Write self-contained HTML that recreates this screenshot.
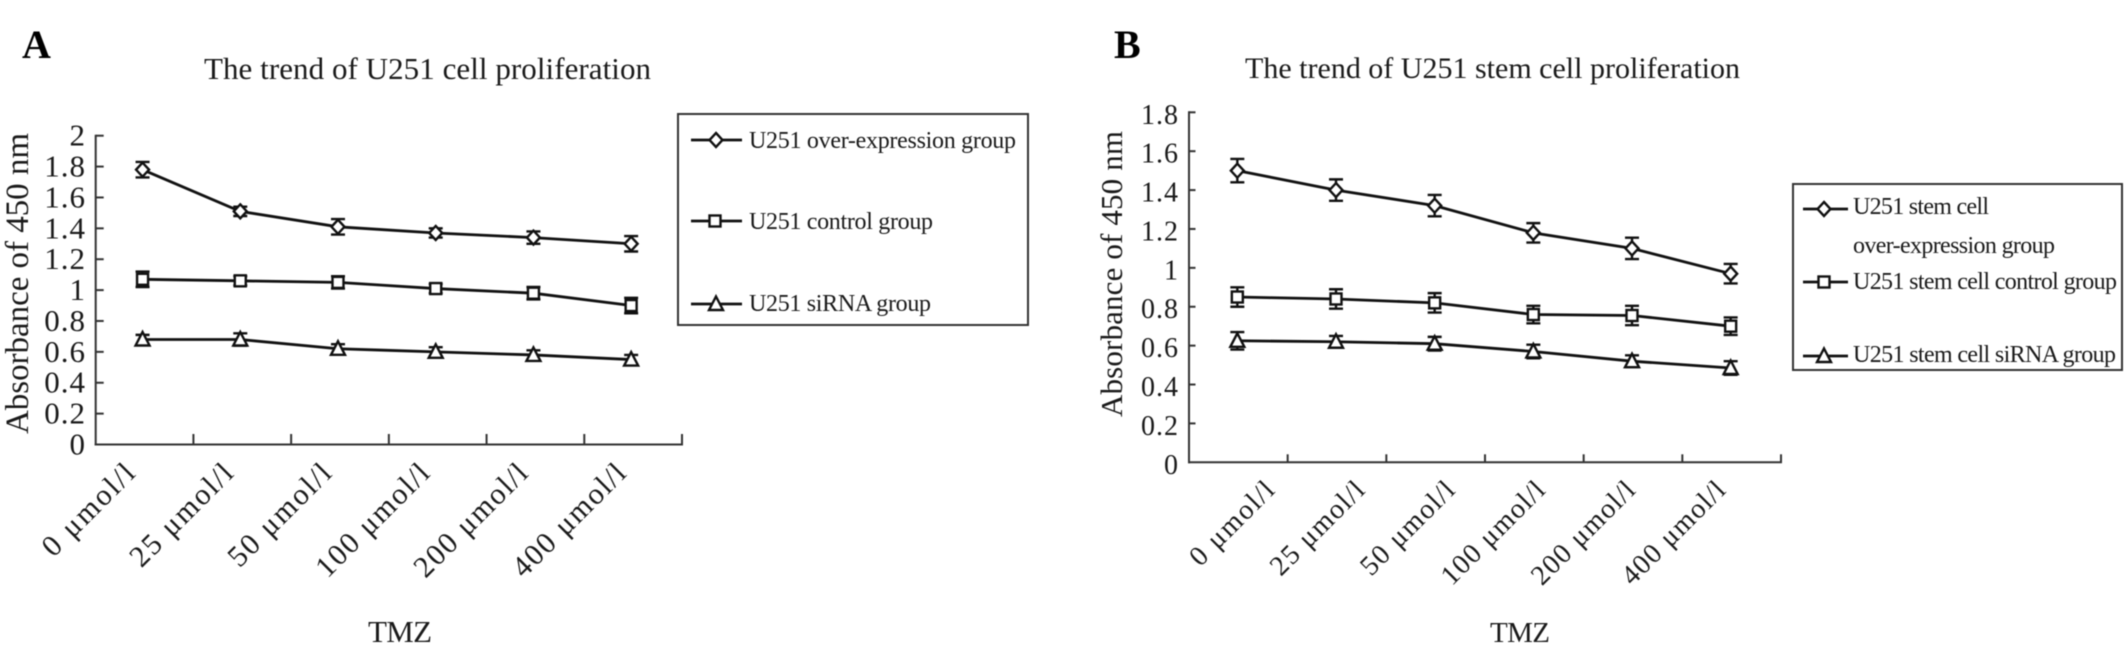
<!DOCTYPE html>
<html lang="en">
<head>
<meta charset="utf-8">
<title>U251 cell proliferation trends</title>
<style>
html,body{margin:0;padding:0;background:#fff;width:2126px;height:672px;overflow:hidden}
svg{display:block;filter:blur(0.45px)}
text{font-family:"Liberation Serif","Noto Serif CJK SC",serif;fill:#1a1a1a}
</style>
</head>
<body>
<svg id="figure" width="2126" height="672" viewBox="0 0 2126 672" xmlns="http://www.w3.org/2000/svg">
  <rect width="2126" height="672" fill="#fff"/>
  <g id="panel-a">
    <text x="22" y="58" font-size="40" font-weight="bold" style="fill:#000">A</text>
    <text x="204" y="79" font-size="31" textLength="447">The trend of U251 cell proliferation</text>
    <text transform="translate(28,434) rotate(-90)" font-size="33" textLength="301">Absorbance of 450 nm</text>
    <text x="368" y="642" font-size="31" textLength="64">TMZ</text>
    <g>
      <rect x="678" y="114" width="350" height="211" fill="#fff" stroke="#333" stroke-width="2"/>
      <g id="legend-a-marks"></g>
      <text x="749" y="148" font-size="24" textLength="267">U251 over-expression group</text>
      <text x="749" y="229" font-size="24" textLength="184">U251 control group</text>
      <text x="749" y="311" font-size="24" textLength="182">U251 siRNA group</text>
    </g>
    <g id="plot-a"></g>
  </g>
  <g id="panel-b">
    <text x="1114" y="58" font-size="40" font-weight="bold" style="fill:#000">B</text>
    <text x="1245" y="78" font-size="30" textLength="495">The trend of U251 stem cell proliferation</text>
    <text transform="translate(1122,417) rotate(-90)" font-size="31" textLength="286">Absorbance of 450 nm</text>
    <text x="1490" y="642" font-size="29" textLength="60">TMZ</text>
    <g>
      <rect x="1793" y="184" width="329" height="186" fill="#fff" stroke="#333" stroke-width="2"/>
      <g id="legend-b-marks"></g>
      <text x="1853" y="214" font-size="24" textLength="136">U251 stem cell</text>
      <text x="1853" y="253" font-size="24" textLength="202">over-expression group</text>
      <text x="1853" y="289" font-size="24" textLength="264">U251 stem cell control group</text>
      <text x="1853" y="362" font-size="24" textLength="263">U251 stem cell siRNA group</text>
    </g>
    <g id="plot-b"></g>
  </g>
</svg>
<script>
// Shared categories
const categories = ['0 μmol/l', '25 μmol/l', '50 μmol/l', '100 μmol/l', '200 μmol/l', '400 μmol/l'];

// Panel A data
const ticksA = [0, 0.2, 0.4, 0.6, 0.8, 1, 1.2, 1.4, 1.6, 1.8, 2];
const overA = [1.78, 1.51, 1.41, 1.37, 1.34, 1.30];
const overErrA = [0.05, 0.03, 0.05, 0.03, 0.04, 0.05];
const controlA = [1.07, 1.06, 1.05, 1.01, 0.98, 0.90];
const controlErrA = [0.05, 0.03, 0.04, 0.03, 0.04, 0.05];
const sirnaA = [0.68, 0.68, 0.62, 0.60, 0.58, 0.55];
const sirnaErrA = [0.03, 0.04, 0.03, 0.03, 0.03, 0.03];

// Panel B data
const ticksB = [0, 0.2, 0.4, 0.6, 0.8, 1, 1.2, 1.4, 1.6, 1.8];
const overB = [1.50, 1.40, 1.32, 1.18, 1.10, 0.97];
const overErrB = [0.06, 0.055, 0.055, 0.05, 0.055, 0.05];
const controlB = [0.85, 0.84, 0.82, 0.76, 0.755, 0.70];
const controlErrB = [0.05, 0.05, 0.05, 0.045, 0.05, 0.045];
const sirnaB = [0.625, 0.62, 0.61, 0.57, 0.52, 0.485];
const sirnaErrB = [0.045, 0.03, 0.035, 0.035, 0.03, 0.035];

const NS = 'http://www.w3.org/2000/svg';

function make(parent, tag, attrs) {
  const el = document.createElementNS(NS, tag);
  for (const k in attrs) el.setAttribute(k, attrs[k]);
  parent.appendChild(el);
  return el;
}

function drawMarker(parent, kind, cx, cy, name) {
  const style = { fill: '#fff', stroke: '#111', 'stroke-width': 2.4 };
  let el;
  if (kind === 'diamond') {
    el = make(parent, 'polygon', Object.assign({ points: `${cx},${cy - 7} ${cx + 6.5},${cy} ${cx},${cy + 7} ${cx - 6.5},${cy}` }, style));
  } else if (kind === 'square') {
    el = make(parent, 'rect', Object.assign({ x: cx - 5.5, y: cy - 5.5, width: 11, height: 11 }, style));
  } else {
    el = make(parent, 'polygon', Object.assign({ points: `${cx},${cy - 7.5} ${cx + 7},${cy + 6} ${cx - 7},${cy + 6}` }, style));
  }
  
  
}

function drawChart(root, cfg, ticks, series) {
  const y = v => cfg.y0 - (v - cfg.yMin) / (cfg.yMax - cfg.yMin) * (cfg.y0 - cfg.yTop);
  const band = (cfg.x1 - cfg.x0) / categories.length;
  const x = i => cfg.x0 + band * (i + 0.5) - cfg.pointShift;
  const axisStyle = { stroke: '#333', 'stroke-width': 2, fill: 'none' };

  const yAxis = make(root, 'line', Object.assign({ x1: cfg.x0, x2: cfg.x0, y1: cfg.yTop - 1, y2: cfg.y0 + 1 }, axisStyle));
  
  
  const xAxis = make(root, 'line', Object.assign({ x1: cfg.x0 - 1, x2: cfg.x1 + 1, y1: cfg.y0, y2: cfg.y0 }, axisStyle));
  
  

  ticks.forEach(t => {
    if (t !== 0) {
      const tick = make(root, 'line', Object.assign({ x1: cfg.x0, x2: cfg.x0 + cfg.yTickLen, y1: y(t), y2: y(t) }, axisStyle));
      
      
    }
    const label = make(root, 'text', { x: cfg.tickLabelX, y: y(t) + cfg.tickLabelDy, 'font-size': cfg.tickFont, 'text-anchor': 'end', 'letter-spacing': 1 });
    label.textContent = String(t);
    
    
  });

  categories.forEach((c, i) => {
    const bx = cfg.x0 + band * (i + 1);
    const tick = make(root, 'line', Object.assign({ x1: bx, x2: bx, y1: cfg.y0, y2: cfg.y0 - cfg.xTickLen }, axisStyle));
    
    
    const lx = cfg.labelX + i * cfg.labelStep;
    const len = c.length * cfg.labelAdvance;
    const label = make(root, 'text', {
      transform: `translate(${lx},${cfg.labelY}) rotate(-45)`,
      'font-size': cfg.labelFont,
      x: -len,
      y: 0,
      textLength: len
    });
    label.textContent = c;
    
    
  });

  series.forEach(s => {
    const pts = s.values.map((v, i) => `${x(i)},${y(v)}`).join(' ');
    const line = make(root, 'polyline', { points: pts, fill: 'none', stroke: '#111', 'stroke-width': 2.8 });
    
    
    s.values.forEach((v, i) => {
      const px = x(i);
      const hi = y(v + s.errors[i]);
      const lo = y(v - s.errors[i]);
      const bar = make(root, 'path', {
        d: `M${px - 7},${hi}H${px + 7}M${px},${hi}V${lo}M${px - 7},${lo}H${px + 7}`,
        fill: 'none', stroke: '#111', 'stroke-width': 2.4
      });
      
      
      drawMarker(root, s.marker, px, y(v), s.name + '-point');
    });
  });
}

function drawLegendMark(parent, kind, x1, x2, cx, cy, name) {
  const line = make(parent, 'line', { x1: x1, x2: x2, y1: cy, y2: cy, stroke: '#111', 'stroke-width': 2.8 });
  
  
  drawMarker(parent, kind, cx, cy, name + '-marker');
}

drawChart(document.getElementById('plot-a'),
  { x0: 95.7, x1: 682, y0: 444.5, yTop: 135.7, yMin: 0, yMax: 2, pointShift: 2, tickLabelX: 86,
    tickFont: 31, tickLabelDy: 10, yTickLen: 8, xTickLen: 10.5,
    labelX: 136.7, labelStep: 98.2, labelY: 475, labelAdvance: 14.7, labelFont: 30 },
  ticksA,
  [
    { name: 'u251-over-expression', marker: 'diamond', values: overA, errors: overErrA },
    { name: 'u251-control', marker: 'square', values: controlA, errors: controlErrA },
    { name: 'u251-sirna', marker: 'triangle', values: sirnaA, errors: sirnaErrA }
  ]);

drawChart(document.getElementById('plot-b'),
  { x0: 1189, x1: 1781, y0: 462.3, yTop: 112.3, yMin: 0, yMax: 1.8, pointShift: 1, tickLabelX: 1179,
    tickFont: 28, tickLabelDy: 11.5, yTickLen: 6.5, xTickLen: 8,
    labelX: 1276, labelStep: 90.2, labelY: 491.7, labelAdvance: 13.4, labelFont: 28 },
  ticksB,
  [
    { name: 'stem-over-expression', marker: 'diamond', values: overB, errors: overErrB },
    { name: 'stem-control', marker: 'square', values: controlB, errors: controlErrB },
    { name: 'stem-sirna', marker: 'triangle', values: sirnaB, errors: sirnaErrB }
  ]);

const legA = document.getElementById('legend-a-marks');
drawLegendMark(legA, 'diamond', 691, 742, 716, 140, 'legend-a-over-expression');
drawLegendMark(legA, 'square', 691, 742, 715, 221, 'legend-a-control');
drawLegendMark(legA, 'triangle', 691, 742, 716, 304, 'legend-a-sirna');
const legB = document.getElementById('legend-b-marks');
drawLegendMark(legB, 'diamond', 1803, 1848, 1824, 209, 'legend-b-over-expression');
drawLegendMark(legB, 'square', 1803, 1848, 1824, 282, 'legend-b-control');
drawLegendMark(legB, 'triangle', 1803, 1848, 1824, 356, 'legend-b-sirna');
</script>
</body>
</html>
